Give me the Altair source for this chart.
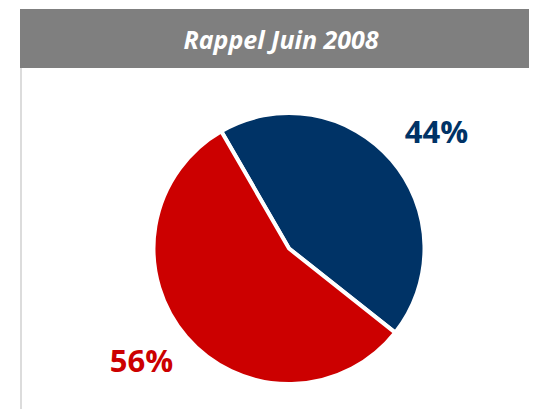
import math
import altair as alt
import pandas as pd

title_text = "Rappel Juin 2008"
categories = ["A", "B"]
values = [44, 56]
labels = ["44%", "56%"]
colors = ["#003366", "#cc0000"]

df = pd.DataFrame({"cat": categories, "value": values, "label": labels, "order": [0, 1]})

start = math.radians(-30)
theta_scale = alt.Scale(range=[start, start + 2 * math.pi])
color_scale = alt.Scale(domain=categories, range=colors)

W, H = 521, 401
CX, CY = 281, 240.5

base = alt.Chart(df).encode(
    theta=alt.Theta("value:Q", stack=True, scale=theta_scale),
    order=alt.Order("order:Q"),
    color=alt.Color("cat:N", scale=color_scale, legend=None),
)

pie = base.mark_arc(x=CX, y=CY, outerRadius=135.5, stroke="white", strokeWidth=4)
text = base.mark_text(
    x=CX, y=CY, radius=187, thetaOffset=0.05, font="Open Sans", fontWeight="bold",
    fontSize=31, align="center", baseline="middle",
).encode(text="label:N")

bg = pd.DataFrame({"t": [title_text]})
header = alt.Chart(bg).mark_rect(color="#7f7f7f").encode(
    x=alt.value(12), x2=alt.value(W), y=alt.value(1), y2=alt.value(60)
)
border = alt.Chart(bg).mark_rule(color="#dcdcdc", strokeWidth=2).encode(
    x=alt.value(13), y=alt.value(60), y2=alt.value(H)
)
title = alt.Chart(bg).mark_text(
    font="Open Sans", fontWeight="bold", fontStyle="italic", fontSize=25,
    color="white", align="center", baseline="alphabetic",
).encode(x=alt.value(273), y=alt.value(41), text="t:N")

chart = alt.layer(header, border, title, pie, text).properties(
    width=W, height=H, padding=0, autosize=alt.AutoSizeParams(type="none")
).configure_view(stroke=None)

chart.save("out.html", embed_options={"renderer": "svg", "actions": False})
